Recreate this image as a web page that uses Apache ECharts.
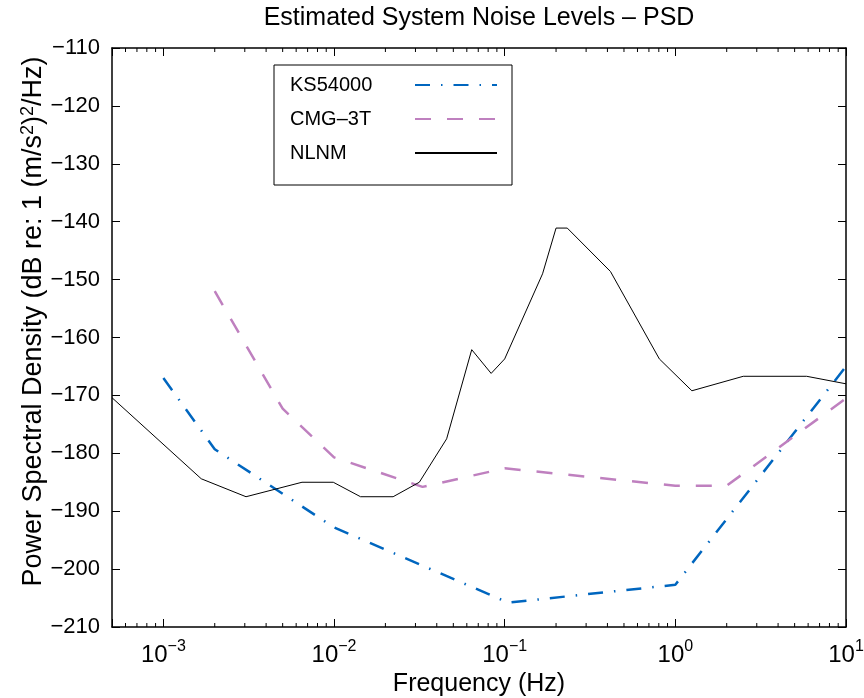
<!DOCTYPE html>
<html>
<head>
<meta charset="utf-8">
<title>Estimated System Noise Levels - PSD</title>
<script src="https://cdn.jsdelivr.net/npm/echarts@6/dist/echarts.min.js"></script>
<style>
  html, body { margin: 0; padding: 0; background: #fff; }
  #chart { width: 864px; height: 698px; }
</style>
</head>
<body>
<div id="chart"></div>
<script>
// frequency in Hz, level in dB re 1 (m/s^2)^2/Hz
const nlnmFreq = [0.0005, 0.001667, 0.00305, 0.00649, 0.0099, 0.0143, 0.0222, 0.0316, 0.0457, 0.0641,
                  0.0833, 0.1, 0.1667, 0.2, 0.2326, 0.4167, 0.806, 1.25, 2.5, 5.88, 10];
const nlnmDb   = [-170.4, -184.4, -187.5, -185.0, -185.0, -187.5, -187.5, -185.0, -177.5, -162.1,
                  -166.2, -163.7, -149.0, -141.1, -141.1, -148.6, -163.7, -169.2, -166.7, -166.7, -168.0];

const ksFreq = [0.001, 0.002, 0.01, 0.105, 1, 10];
const ksDb   = [-167.0, -179.3, -192.8, -205.8, -202.7, -165.0];

const cmgFreq = [0.002, 0.005, 0.01, 0.033, 0.1, 1, 2, 10];
const cmgDb   = [-152.0, -172.3, -180.7, -185.8, -182.6, -185.6, -185.6, -170.5];

// minor ticks of the log axis
const decades = [0.0001, 0.001, 0.01, 0.1, 1];
const minorSteps = [2, 3, 4, 5, 6, 7, 8, 9];

const xMin = 0.0005, xMax = 10;
const yMin = -210, yMax = -110, yStep = 10;

const FONT = '"Liberation Sans", Arial, Helvetica, sans-serif';
const KS_COLOR = '#0066bf';
const CMG_COLOR = '#bf80bf';

const zip = (xs, ys) => xs.map((x, i) => [x, ys[i]]);

const minorTicks = [];
decades.forEach(d => minorSteps.forEach(m => {
    const v = d * m;
    if (v > xMin && v < xMax) minorTicks.push(v);
}));

function decadeLabel(v) {
    const lg = Math.log10(v);
    const e = Math.round(lg);
    if (Math.abs(lg - e) > 1e-6) return '';
    return '{b|10}{s|' + (e < 0 ? '\u2212' + (-e) : e) + '}';
}

const minus = v => (v < 0 ? '\u2212' + (-v) : '' + v);

const frameLine = { show: true, lineStyle: { color: '#000', width: 1.5 } };

let myChart = echarts.init(document.getElementById('chart'));
myChart.setOption({
    animation: false,
    backgroundColor: '#fff',
    textStyle: { fontFamily: FONT, color: '#000' },
    title: {
        text: 'Estimated System Noise Levels \u2013 PSD',
        left: 474,
        textAlign: 'center',
        top: 1,
        textStyle: { fontFamily: FONT, fontSize: 25, fontWeight: 'normal', color: '#000' }
    },
    grid: { left: 112, right: 18, top: 48, bottom: 71, outerBoundsMode: 'none' },
    legend: {
        orient: 'vertical',
        left: 274,
        top: 65,
        align: 'right',
        data: [
            { name: 'KS54000' },
            { name: 'CMG-3T' },
            { name: 'NLNM', lineStyle: { width: 2 } }
        ],
        itemWidth: 82,
        itemHeight: 14,
        itemGap: 14,
        itemStyle: { opacity: 0 },
        padding: [10, 14, 22, 16],
        borderColor: '#000',
        borderWidth: 1,
        borderRadius: 0,
        backgroundColor: '#fff',
        formatter: name => '{t|' + name.replace('-', '\u2013') + '}',
        textStyle: {
            fontFamily: FONT, fontSize: 20, color: '#000',
            rich: { t: { width: 120, align: 'left', fontSize: 20, fontFamily: FONT } }
        }
    },
    xAxis: [{
        type: 'log',
        logBase: 10,
        min: xMin,
        max: xMax,
        position: 'bottom',
        name: 'Frequency (Hz)',
        nameLocation: 'middle',
        nameGap: 44,
        nameTextStyle: { fontFamily: FONT, fontSize: 25, color: '#000' },
        axisLine: frameLine,
        axisTick: { show: true, inside: true, length: 8, lineStyle: { color: '#000', width: 1 } },
        splitLine: { show: false },
        axisLabel: {
            margin: 12,
            color: '#000',
            showMinLabel: true,
            formatter: decadeLabel,
            rich: {
                b: { fontFamily: FONT, fontSize: 24, color: '#000', verticalAlign: 'bottom' },
                s: { fontFamily: FONT, fontSize: 16, color: '#000', verticalAlign: 'bottom', padding: [0, 0, 12, 0] }
            }
        }
    }, {
        type: 'log',
        logBase: 10,
        min: xMin,
        max: xMax,
        position: 'top',
        axisLine: frameLine,
        axisTick: { show: true, inside: true, length: 8, lineStyle: { color: '#000', width: 1 } },
        axisLabel: { show: false },
        splitLine: { show: false }
    }],
    yAxis: [{
        type: 'value',
        min: yMin,
        max: yMax,
        interval: yStep,
        position: 'left',
        name: 'Power Spectral Density (dB re: 1 (m/s{s|2}){s|2}/Hz)',
        nameLocation: 'middle',
        nameGap: 63,
        nameMoveOverlap: false,
        nameTextStyle: {
            fontFamily: FONT, fontSize: 27, color: '#000',
            padding: [0, 0, 0, 32],
            rich: { s: { fontFamily: FONT, fontSize: 18, color: '#000', padding: [0, 0, 12, 0] } }
        },
        axisLine: frameLine,
        axisTick: { show: true, inside: true, length: 8, lineStyle: { color: '#000', width: 1 } },
        splitLine: { show: false },
        axisLabel: { margin: 12, fontFamily: FONT, fontSize: 22, color: '#000', formatter: minus }
    }, {
        type: 'value',
        min: yMin,
        max: yMax,
        interval: yStep,
        position: 'right',
        axisLine: frameLine,
        axisTick: { show: true, inside: true, length: 8, lineStyle: { color: '#000', width: 1 } },
        splitLine: { show: false },
        axisLabel: { show: false }
    }],
    series: [{
        name: 'KS54000',
        type: 'line',
        data: zip(ksFreq, ksDb),
        symbol: 'none',
        color: KS_COLOR,
        lineStyle: { color: KS_COLOR, width: 2.5, type: [15, 11, 1.5, 11] }
    }, {
        name: 'CMG-3T',
        type: 'line',
        data: zip(cmgFreq, cmgDb),
        symbol: 'none',
        color: CMG_COLOR,
        lineStyle: { color: CMG_COLOR, width: 2.5, type: [16, 16] }
    }, {
        name: 'NLNM',
        type: 'line',
        data: zip(nlnmFreq, nlnmDb),
        symbol: 'none',
        color: '#000',
        lineStyle: { color: '#000', width: 1 }
    }, {
        // minor ticks of the log axis, on bottom and top edges
        name: 'minorTicks',
        type: 'custom',
        silent: true,
        clip: false,
        data: minorTicks.map(v => [v, yMin]),
        encode: { x: 0, y: 1 },
        renderItem(params, api) {
            const v = api.value(0);
            const b = api.coord([v, yMin]);
            const t = api.coord([v, yMax]);
            const st = { stroke: '#000', lineWidth: 1 };
            return {
                type: 'group',
                children: [
                    { type: 'line', shape: { x1: b[0], y1: b[1], x2: b[0], y2: b[1] - 4 }, style: st },
                    { type: 'line', shape: { x1: t[0], y1: t[1], x2: t[0], y2: t[1] + 4 }, style: st }
                ]
            };
        }
    }]
});
window.addEventListener('resize', function() {
    myChart.resize();
});
</script>
</body>
</html>
